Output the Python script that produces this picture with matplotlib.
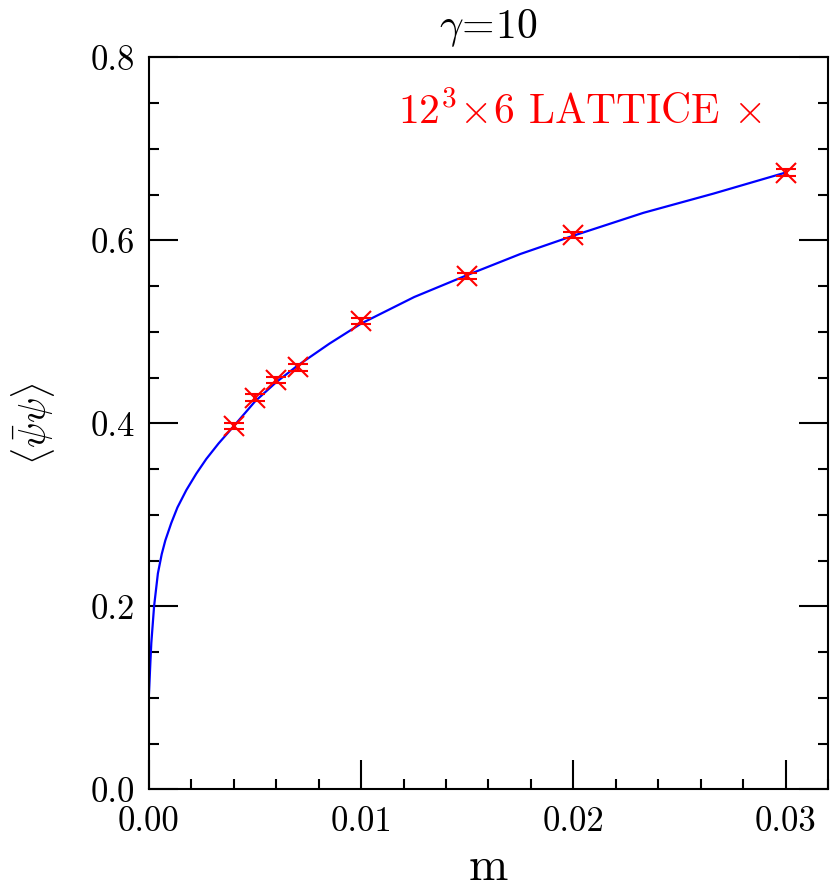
import matplotlib
matplotlib.use("Agg")
import matplotlib.pyplot as plt
from matplotlib.ticker import MultipleLocator

plt.rcParams['font.family'] = 'cmr10'
plt.rcParams['mathtext.fontset'] = 'cm'
plt.rcParams['axes.formatter.use_mathtext'] = True

# lattice data points
m_data = [0.004, 0.005, 0.006, 0.007, 0.010, 0.015, 0.020, 0.030]
pbp_data = [0.397, 0.428, 0.447, 0.461, 0.512, 0.561, 0.606, 0.674]
pbp_err = [0.0035, 0.0035, 0.0035, 0.0035, 0.0035, 0.0035, 0.0035, 0.0035]

# fitted curve
m_fit = [0.0, 0.00007, 0.00011, 0.00024, 0.00042, 0.0006, 0.00077, 0.00105,
         0.00134, 0.00176, 0.00223, 0.0027, 0.00328, 0.004, 0.005, 0.006,
         0.007, 0.0085, 0.010, 0.0125, 0.015, 0.0175, 0.020, 0.0233,
         0.0266, 0.030]
pbp_fit = [0.105, 0.141, 0.160, 0.200, 0.236, 0.257, 0.272, 0.291,
           0.308, 0.327, 0.345, 0.361, 0.378, 0.397, 0.424, 0.445,
           0.463, 0.487, 0.509, 0.538, 0.562, 0.585, 0.605, 0.630,
           0.651, 0.674]

fig = plt.figure(figsize=(8.3, 8.92), dpi=100)
ax = fig.add_axes([0.1795, 0.1151, 0.8181, 0.8207])

ax.plot(m_fit, pbp_fit, color='blue', lw=1.6, zorder=2)
ax.errorbar(m_data, pbp_data, yerr=pbp_err, fmt='x', color='red', ms=15,
            mew=1.5, elinewidth=1.5, capsize=7.5, capthick=1.5, zorder=3)

ax.set_xlim(0, 0.032)
ax.set_ylim(0, 0.8)
ax.xaxis.set_major_locator(MultipleLocator(0.01))
ax.xaxis.set_minor_locator(MultipleLocator(0.002))
ax.yaxis.set_major_locator(MultipleLocator(0.2))
ax.yaxis.set_minor_locator(MultipleLocator(0.05))
ax.xaxis.set_major_formatter(plt.FormatStrFormatter('%.2f'))
ax.yaxis.set_major_formatter(plt.FormatStrFormatter('%.1f'))

ax.tick_params(which='both', direction='in', top=False, right=True,
               width=1.5, labelsize=25)
ax.tick_params(which='major', length=21)
ax.tick_params(which='minor', length=7)
ax.tick_params(axis='y', pad=10)
ax.tick_params(axis='x', pad=12)
for s in ax.spines.values():
    s.set_linewidth(1.5)

ax.set_xlabel('m', fontsize=34, labelpad=7)
ax.set_ylabel(r'$\langle\bar{\psi}\psi\rangle$', fontsize=27, labelpad=24)
ax.set_title(r'$\gamma\!=\!10$', fontsize=30, pad=14)

ax.text(0.0203, 0.740, r'$12^3\!\times\!6$ LATTICE $\times$', color='red',
        fontsize=30, ha='center', va='center')

fig.savefig('out.png', dpi=100)
